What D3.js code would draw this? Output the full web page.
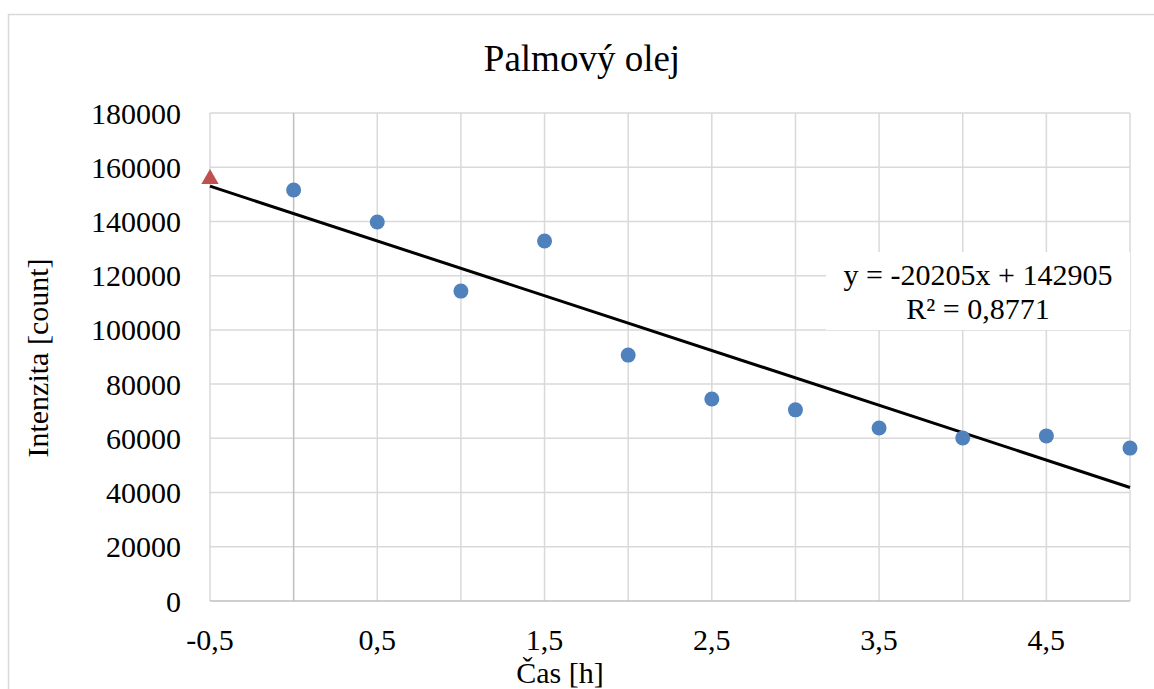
<!DOCTYPE html>
<html>
<head>
<meta charset="utf-8">
<script src="https://cdn.jsdelivr.net/npm/d3@7"></script>
<style>
  html, body { margin: 0; padding: 0; background: #fff; }
  svg { display: block; }
</style>
</head>
<body>
<svg id="chart" width="1154" height="689"></svg>
<script>
// ---- data ----
const title = "Palmový olej";
const xLabel = "Čas [h]";
const yLabel = "Intenzita [count]";
const timeValues = [0, 0.5, 1, 1.5, 2, 2.5, 3, 3.5, 4, 4.5, 5];
const intensityValues = [151600, 139800, 114300, 132800, 90700, 74500, 70500, 63800, 60100, 60900, 56400];
const extraPointX = [-0.5];
const extraPointY = [155700];
const trendSlope = -20205;
const trendIntercept = 142905;
const trendRange = [-0.5, 5];
const xTickValues = [-0.5, 0.5, 1.5, 2.5, 3.5, 4.5];
const xGridValues = [-0.5, 0, 0.5, 1, 1.5, 2, 2.5, 3, 3.5, 4, 4.5, 5];
const yTickValues = [0, 20000, 40000, 60000, 80000, 100000, 120000, 140000, 160000, 180000];
const equationLines = ["y = -20205x + 142905", "R² = 0,8771"];

// ---- layout ----
const FONT = "'Liberation Serif', 'Times New Roman', Times, 'DejaVu Serif', serif";
const svg = d3.select("#chart").attr("font-family", FONT);
const plot = { left: 210, right: 1130, top: 113, bottom: 601 };

const x = d3.scaleLinear().domain([-0.5, 5]).range([plot.left, plot.right]);
const y = d3.scaleLinear().domain([0, 180000]).range([plot.bottom, plot.top]);
const fmtX = v => String(v).replace(".", ",");

// chart border
svg.append("rect")
  .attr("x", 8.5).attr("y", 14.5).attr("width", 1200).attr("height", 700)
  .attr("fill", "none").attr("stroke", "#d9d9d9").attr("stroke-width", 1.5);

// horizontal gridlines
svg.append("g").selectAll("line").data(yTickValues.filter(v => v > 0)).join("line")
  .attr("x1", plot.left).attr("x2", plot.right)
  .attr("y1", d => y(d)).attr("y2", d => y(d))
  .attr("stroke", "#d9d9d9").attr("stroke-width", 1.5);

// vertical gridlines
svg.append("g").selectAll("line").data(xGridValues).join("line")
  .attr("x1", d => x(d)).attr("x2", d => x(d))
  .attr("y1", plot.top).attr("y2", plot.bottom)
  .attr("stroke", d => d === 0 ? "#bfbfbf" : "#d9d9d9")
  .attr("stroke-width", 1.5);

// bottom axis line
svg.append("line")
  .attr("x1", plot.left).attr("x2", plot.right)
  .attr("y1", y(0)).attr("y2", y(0))
  .attr("stroke", "#bfbfbf").attr("stroke-width", 1.5);

const addText = (sel) => sel.attr("font-family", FONT).attr("fill", "#000");

// y tick labels
svg.append("g").selectAll("text").data(yTickValues).join("text")
  .call(addText)
  .attr("x", 181).attr("y", d => y(d))
  .attr("dy", "0.35em")
  .attr("text-anchor", "end")
  .attr("font-size", 30)
  .text(d => d);

// x tick labels
svg.append("g").selectAll("text").data(xTickValues).join("text")
  .call(addText)
  .attr("x", d => x(d)).attr("y", 650)
  .attr("text-anchor", "middle")
  .attr("font-size", 30)
  .text(fmtX);

// trend line
const trendData = trendRange.map(t => ({ t, v: trendSlope * t + trendIntercept }));
svg.append("path")
  .datum(trendData)
  .attr("d", d3.line().x(d => x(d.t)).y(d => y(d.v)))
  .attr("fill", "none").attr("stroke", "#000").attr("stroke-width", 3);

// points
svg.append("g").selectAll("circle").data(timeValues.map((t, i) => [t, intensityValues[i]])).join("circle")
  .attr("cx", d => x(d[0])).attr("cy", d => y(d[1]))
  .attr("r", 7.5).attr("fill", "#4f81bd");

// extra red triangle
svg.append("g").selectAll("path").data(extraPointX.map((t, i) => [t, extraPointY[i]])).join("path")
  .attr("transform", d => `translate(${x(d[0])},${y(d[1])})`)
  .attr("d", d3.symbol().type(d3.symbolTriangle).size(130))
  .attr("fill", "#c0504d");

// equation label with white background
const eqG = svg.append("g");
eqG.append("rect")
  .attr("x", 826).attr("y", 252).attr("width", 304).attr("height", 78)
  .attr("fill", "#fff");
eqG.selectAll("text").data(equationLines).join("text")
  .call(addText)
  .attr("x", 978).attr("y", (d, i) => 285 + i * 34)
  .attr("text-anchor", "middle")
  .attr("font-size", 30)
  .text(d => d);

// title
svg.append("text")
  .call(addText)
  .attr("x", 582).attr("y", 71)
  .attr("text-anchor", "middle")
  .attr("font-size", 37)
  .text(title);

// axis titles
svg.append("text")
  .call(addText)
  .attr("x", 560).attr("y", 683)
  .attr("text-anchor", "middle")
  .attr("font-size", 30)
  .text(xLabel);

svg.append("text")
  .call(addText)
  .attr("transform", "translate(48,358) rotate(-90)")
  .attr("text-anchor", "middle")
  .attr("font-size", 30)
  .text(yLabel);
</script>
</body>
</html>
